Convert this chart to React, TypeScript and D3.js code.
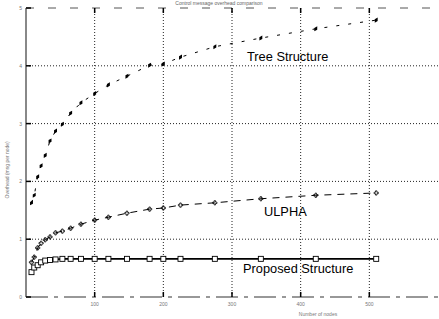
import React from "react";
import * as d3 from "d3";

const nodes = [8, 12, 17, 22, 28, 35, 43, 53, 65, 80, 100, 120, 147, 180, 200, 225, 275, 342, 422, 510];
const treeValues = [1.63, 1.76, 2.08, 2.27, 2.45, 2.7, 2.87, 2.99, 3.18, 3.36, 3.52, 3.67, 3.82, 4.01, 4.03, 4.15, 4.33, 4.48, 4.64, 4.79];
const ulphaValues = [0.6, 0.69, 0.85, 0.93, 0.99, 1.04, 1.11, 1.14, 1.19, 1.26, 1.33, 1.38, 1.45, 1.52, 1.54, 1.59, 1.63, 1.7, 1.76, 1.8];
const proposedValues = [0.43, 0.51, 0.55, 0.6, 0.63, 0.64, 0.65, 0.66, 0.66, 0.66, 0.66, 0.66, 0.66, 0.66, 0.66, 0.66, 0.66, 0.66, 0.66, 0.66];
const xTicks = [100, 200, 300, 400, 500];
const yTicks = [0, 1, 2, 3, 4, 5];

export default function App() {
  const width = 439;
  const height = 319;

  const x = d3.scaleLinear().domain([0, 600]).range([26, 438]);
  const y = d3.scaleLinear().domain([0, 5]).range([297, 8]);

  const mk = (vals: number[]) =>
    d3
      .line<number>()
      .x((_, i) => x(nodes[i]))
      .y((d) => y(d))(vals) || "";

  return (
    <svg
      width={width}
      height={height}
      style={{ position: "absolute", left: 0, top: 0, background: "#fff" }}
      fontFamily="Liberation Sans, Arial, sans-serif"
    >
      {/* grid */}
      {xTicks.map((t) => (
        <line key={"gx" + t} x1={x(t)} x2={x(t)} y1={y(5)} y2={y(0)} stroke="#222" strokeWidth={1} strokeDasharray="1,2" />
      ))}
      {yTicks.slice(1, 5).map((t) => (
        <line key={"gy" + t} x1={x(0)} x2={width} y1={y(t)} y2={y(t)} stroke="#222" strokeWidth={1} strokeDasharray="1,2" />
      ))}
      {/* top frame (dashed) */}
      <line x1={x(0)} x2={width} y1={y(5)} y2={y(5)} stroke="#555" strokeWidth={1} strokeDasharray="8,14" />
      {/* axes */}
      <line x1={x(0)} x2={x(0)} y1={y(5)} y2={y(0)} stroke="#888" strokeWidth={2} />
      <line x1={x(0)} x2={width} y1={y(0)} y2={y(0)} stroke="#777" strokeWidth={1.5} strokeDasharray="22,6,4,6" />
      {xTicks.map((t) => (
        <g key={"tx" + t}>
          <line x1={x(t)} x2={x(t)} y1={y(0)} y2={y(0) - 5} stroke="#000" strokeWidth={1.5} />
          <line x1={x(t)} x2={x(t)} y1={y(5)} y2={y(5) + 5} stroke="#000" strokeWidth={1.5} />
          <text x={x(t)} y={y(0) + 9} fontSize={5} textAnchor="middle" fill="#777">
            {t}
          </text>
        </g>
      ))}
      {yTicks.map((t) => (
        <g key={"ty" + t}>
          <line x1={x(0)} x2={x(0) + 5} y1={y(t)} y2={y(t)} stroke="#000" strokeWidth={1.5} />
          <text x={x(0) - 4} y={y(t) + 2} fontSize={5} textAnchor="end" fill="#777">
            {t}
          </text>
        </g>
      ))}
      <text x={219} y={5} fontSize={5} textAnchor="middle" fill="#666">
        Control message overhead comparison
      </text>
      <text x={318} y={316} fontSize={5} textAnchor="middle" fill="#777">
        Number of nodes
      </text>
      <text transform={`translate(9,${y(2.2)}) rotate(-90)`} fontSize={5} textAnchor="middle" fill="#777">
        Overhead (msg per node)
      </text>

      {/* Tree Structure */}
      <path d={mk(treeValues)} fill="none" stroke="#000" strokeWidth={1} strokeDasharray="3,9" />
      {treeValues.map((v, i) => (
        <path
          key={"t" + i}
          d={d3.symbol(d3.symbolDiamond, 10)() || ""}
          transform={`translate(${x(nodes[i])},${y(v)}) rotate(30)`}
          fill="#000"
        />
      ))}
      {/* ULPHA */}
      <path d={mk(ulphaValues)} fill="none" stroke="#000" strokeWidth={1} strokeDasharray="7,6" />
      {ulphaValues.map((v, i) => (
        <path
          key={"u" + i}
          d={d3.symbol(d3.symbolCross, 10)() || ""}
          transform={`translate(${x(nodes[i])},${y(v)})`}
          fill="none"
          stroke="#000"
          strokeWidth={0.8}
        />
      ))}
      {/* Proposed */}
      <path d={mk(proposedValues)} fill="none" stroke="#000" strokeWidth={1.8} />
      {proposedValues.map((v, i) => (
        <rect key={"p" + i} x={x(nodes[i]) - 2.5} y={y(v) - 2.5} width={5} height={5} fill="#fff" stroke="#000" strokeWidth={0.9} />
      ))}

      <text x={247} y={61} fontSize={12.8} fill="#000">
        Tree Structure
      </text>
      <text x={264} y={216} fontSize={12.8} fill="#000">
        ULPHA
      </text>
      <text x={243} y={273} fontSize={12.8} fill="#000">
        Proposed Structure
      </text>
    </svg>
  );
}
